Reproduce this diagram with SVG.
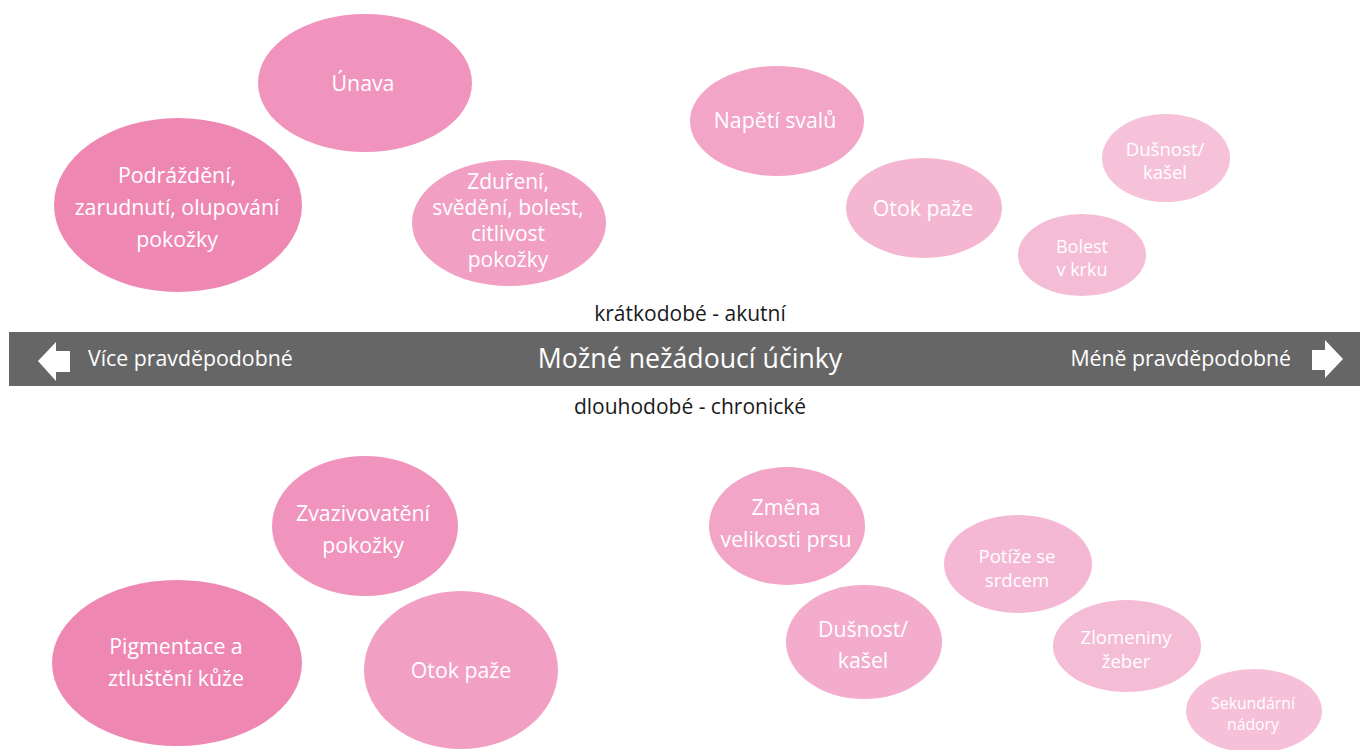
<svg xmlns="http://www.w3.org/2000/svg" width="1360" height="750" viewBox="0 0 1360 750">
<style>
text{font-family:"Open Sans","Noto Sans","Liberation Sans",sans-serif;fill:#fff;text-anchor:middle}
.t20{font-size:21.3px}
.t19{font-size:21px}
.t17{font-size:18.6px}
.t16{font-size:18px}
.t14{font-size:15.8px}
.dark{fill:#1a1a1a;font-size:21px}
</style>
<rect width="1360" height="750" fill="#fff"/>
<g id="bar">
<rect x="9" y="332" width="1351" height="54" fill="#666"/>
<polygon points="38,361 56,342 56,351 70,351 70,372 56,372 56,381" fill="#fff"/>
<polygon points="1343,359 1325,340 1325,350 1312,350 1312,370 1325,370 1325,378" fill="#fff"/>
<text x="690" y="368" style="font-size:26.7px">Možné nežádoucí účinky</text>
<text x="88" y="366" class="t20" style="text-anchor:start">Více pravděpodobné</text>
<text x="1291" y="366" class="t20" style="text-anchor:end">Méně pravděpodobné</text>
</g>
<text class="dark" x="690" y="321">krátkodobé - akutní</text>
<text class="dark" x="690" y="414">dlouhodobé - chronické</text>
<g id="n1"><ellipse cx="178" cy="205" rx="124" ry="87" fill="#EE88B3"/><text class="t20" x="177" y="183">Podráždění,</text><text class="t20" x="177" y="215">zarudnutí, olupování</text><text class="t20" x="177" y="247">pokožky</text></g>
<g id="n2"><ellipse cx="365" cy="83" rx="107" ry="69" fill="#F094BD"/><text class="t20" x="363" y="91">Únava</text></g>
<g id="n3"><ellipse cx="509" cy="223" rx="97" ry="63" fill="#F29FC4"/><text class="t19" x="508" y="189">Zduření,</text><text class="t19" x="508" y="215">svědění, bolest,</text><text class="t19" x="508" y="241">citlivost</text><text class="t19" x="508" y="267">pokožky</text></g>
<g id="n4"><ellipse cx="777" cy="121" rx="87" ry="55" fill="#F2A5C7"/><text class="t20" x="775" y="128">Napětí svalů</text></g>
<g id="n5"><ellipse cx="924" cy="208" rx="78" ry="50" fill="#F5B6D2"/><text class="t20" x="923" y="216">Otok paže</text></g>
<g id="n6"><ellipse cx="1166" cy="158" rx="64" ry="44" fill="#F6C2DA"/><text class="t17" x="1165" y="156">Dušnost/</text><text class="t17" x="1165" y="179">kašel</text></g>
<g id="n7"><ellipse cx="1082" cy="255" rx="64" ry="41" fill="#F5BCD6"/><text class="t16" x="1082" y="253">Bolest</text><text class="t16" x="1082" y="276">v krku</text></g>
<g id="n8"><ellipse cx="365" cy="526" rx="93" ry="70" fill="#F094BD"/><text class="t20" x="363" y="521">Zvazivovatění</text><text class="t20" x="363" y="553">pokožky</text></g>
<g id="n9"><ellipse cx="177" cy="663" rx="125" ry="83" fill="#EE88B3"/><text class="t20" x="176" y="654">Pigmentace a</text><text class="t20" x="176" y="686">ztluštění kůže</text></g>
<g id="n10"><ellipse cx="461" cy="670" rx="97" ry="79" fill="#F29FC4"/><text class="t20" x="461" y="678">Otok paže</text></g>
<g id="n11"><ellipse cx="787" cy="526" rx="78" ry="59" fill="#F2A5C7"/><text class="t20" x="786" y="515">Změna</text><text class="t20" x="786" y="547">velikosti prsu</text></g>
<g id="n12"><ellipse cx="864" cy="642" rx="78" ry="57" fill="#F3ACCB"/><text class="t20" x="863" y="637">Dušnost/</text><text class="t20" x="863" y="668">kašel</text></g>
<g id="n13"><ellipse cx="1018" cy="564" rx="74" ry="49" fill="#F5B8D4"/><text class="t17" x="1017" y="563">Potíže se</text><text class="t17" x="1017" y="587">srdcem</text></g>
<g id="n14"><ellipse cx="1127" cy="646" rx="74" ry="46" fill="#F5BCD6"/><text class="t17" x="1126" y="644">Zlomeniny</text><text class="t17" x="1126" y="668">žeber</text></g>
<g id="n15"><ellipse cx="1254" cy="711" rx="68" ry="42" fill="#F6C0D8"/><text class="t14" x="1253" y="709">Sekundární</text><text class="t14" x="1253" y="730">nádory</text></g>
<g id="connectors"></g>
</svg>
